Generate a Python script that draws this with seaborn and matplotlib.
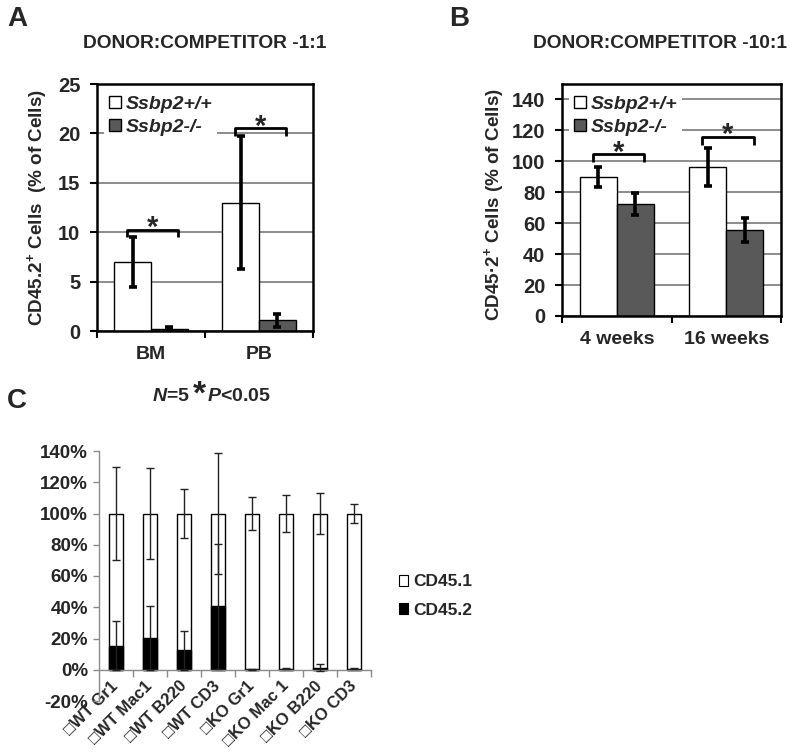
import matplotlib
matplotlib.use("Agg")
import matplotlib.pyplot as plt
import numpy as np
import pandas as pd
import seaborn as sns
from matplotlib.patches import Patch

# ---------------- data ----------------
A_groups = ["BM", "PB"]
A_genotypes = ["Ssbp2+/+", "Ssbp2-/-"]
A_wt = [7.0, 13.0]
A_wt_err = [2.55, 6.7]
A_ko = [0.25, 1.1]
A_ko_err = [0.12, 0.65]
A_yticks = [0, 5, 10, 15, 20, 25]

B_groups = ["4 weeks", "16 weeks"]
B_wt = [90.0, 96.3]
B_wt_err = [6.5, 12.4]
B_ko = [72.5, 55.5]
B_ko_err = [7.0, 7.8]
B_yticks = [0, 20, 40, 60, 80, 100, 120, 140]

C_cats = ["\u25a1WT Gr1", "\u25a1WT Mac1", "\u25a1WT B220", "\u25a1WT CD3",
          "\u25a1KO Gr1", "\u25a1KO Mac 1", "\u25a1KO B220", "\u25a1KO CD3"]
C_series = ["CD45.1", "CD45.2"]
C_cd452 = [15.3, 20.3, 12.4, 40.5, 0.4, 0.7, 1.4, 0.7]
C_cd452_err = [15.7, 20.4, 12.3, 40.0, 0.3, 0.3, 2.4, 0.3]
C_cd451 = [84.7, 79.7, 87.6, 59.5, 99.6, 99.3, 98.6, 99.3]
C_cd451_err = [29.7, 29.4, 15.8, 38.5, 10.8, 12.0, 13.4, 6.0]
C_yticks = [-20, 0, 20, 40, 60, 80, 100, 120, 140]

# significance bracket heights (data units)
A_sig = [10.25, 20.5]
B_sig = [104.5, 116.0]

# ---------------- style ----------------
sns.set_style("white")
plt.rcParams["font.family"] = ["Liberation Sans", "DejaVu Sans"]
plt.rcParams["font.weight"] = "bold"
plt.rcParams["mathtext.fontset"] = "custom"
plt.rcParams["mathtext.rm"] = "Liberation Sans:bold"
plt.rcParams["mathtext.bf"] = "Liberation Sans:bold"
plt.rcParams["mathtext.it"] = "Liberation Sans:italic:bold"
plt.rcParams["mathtext.default"] = "rm"

WHITE = "#ffffff"
DARK = "#595959"
GRID = "#8c8c8c"
AXG = "#8a8a8a"

W, H = 800, 755
fig = plt.figure(figsize=(8, 7.55), dpi=100)


def fx(px):
    return px / W


def fy(py):
    return 1 - py / H


def grouped_panel(ax, groups, wt, wt_err, ko, ko_err, yticks, ylim, sig, sig_drop):
    df = pd.DataFrame({
        "group": groups * 2,
        "genotype": [A_genotypes[0]] * len(groups) + [A_genotypes[1]] * len(groups),
        "value": wt + ko,
    })
    sns.barplot(data=df, x="group", y="value", hue="genotype", hue_order=A_genotypes,
                palette=[WHITE, DARK], edgecolor="black", linewidth=1.0, width=0.68,
                errorbar=None, saturation=1, legend=False, ax=ax)
    for cont, errs in zip(ax.containers, [wt_err, ko_err]):
        for bar, e in zip(cont, errs):
            ax.errorbar(bar.get_x() + bar.get_width() / 2, bar.get_height(), yerr=e,
                        fmt="none", ecolor="black", elinewidth=2.6, capsize=2.8,
                        capthick=2.6, zorder=4)
    ax.set_xlim(-0.5, len(groups) - 0.5)
    ax.set_ylim(*ylim)
    ax.set_yticks(yticks)
    ax.set_yticklabels([str(v) for v in yticks])
    ax.yaxis.grid(True, color=GRID, linewidth=1.4)
    ax.xaxis.grid(False)
    ax.set_axisbelow(True)
    ax.set_xlabel("")
    ax.set_ylabel("")
    ax.set_xticks(range(len(groups)))
    ax.set_xticklabels(groups)
    ax.set_xticks(np.arange(-0.5, len(groups), 1.0), minor=True)
    ax.tick_params(axis="x", which="major", length=0, pad=11, labelsize=14)
    ax.tick_params(axis="x", which="minor", length=5, width=1.5, direction="out",
                   color="black", bottom=True)
    ax.tick_params(axis="y", which="major", length=5, width=1.5, direction="out",
                   color="black", pad=7, labelsize=14.5, left=True)
    for s in ax.spines.values():
        s.set_visible(True)
        s.set_color("black")
        s.set_linewidth(1.8)
    for i, y in enumerate(sig):
        x0, x1 = i - 0.22, i + 0.25
        ax.plot([x0, x0, x1, x1], [y - sig_drop, y, y, y - sig_drop], color="black",
                lw=2.0, solid_capstyle="butt", zorder=5)
        ax.annotate("*", xy=(i + 0.015, y), xytext=(0, -4.5), textcoords="offset points",
                    ha="center", va="baseline", fontsize=21, weight="bold", zorder=6)
    leg = ax.legend(handles=[Patch(facecolor=WHITE, edgecolor="black", lw=1.0),
                             Patch(facecolor=DARK, edgecolor="black", lw=1.0)],
                    labels=A_genotypes, loc="upper left", bbox_to_anchor=(0.0, 1.0),
                    frameon=True, framealpha=1, facecolor="white", edgecolor="none",
                    fancybox=False, prop={"weight": "bold", "style": "italic", "size": 14},
                    handlelength=0.62, handleheight=0.62, handletextpad=0.25,
                    labelspacing=0.3, borderpad=0.25, borderaxespad=0.35)
    leg.set_zorder(3)


# ---------------- panel A ----------------
axA = fig.add_axes([fx(97), fy(331), fx(216), 247 / H])
grouped_panel(axA, A_groups, A_wt, A_wt_err, A_ko, A_ko_err, A_yticks, (0, 25), A_sig, 0.75)
fig.text(fx(37), fy(208), "CD45.2$^{+}$ Cells  (% of Cells)", rotation=90,
         ha="center", va="center", fontsize=13.6, weight="bold")
fig.text(fx(7), fy(6), "A", fontsize=20, weight="bold", va="top", ha="left")
fig.text(fx(205), fy(48), "DONOR:COMPETITOR -1:1", fontsize=13.8, weight="bold",
         ha="center", va="baseline")

# ---------------- panel B ----------------
axB = fig.add_axes([fx(562), fy(316), fx(219), 232 / H])
grouped_panel(axB, B_groups, B_wt, B_wt_err, B_ko, B_ko_err, B_yticks, (0, 150), B_sig, 5.2)
fig.text(fx(494), fy(205), "CD45\u00b72$^{+}$ Cells (% of Cells)", rotation=90,
         ha="center", va="center", fontsize=13.6, weight="bold")
fig.text(fx(449), fy(6), "B", fontsize=20, weight="bold", va="top", ha="left")
fig.text(fx(660), fy(48), "DONOR:COMPETITOR -10:1", fontsize=13.8, weight="bold",
         ha="center", va="baseline")

# N=5 *P<0.05
fig.text(fx(152), fy(401), r"$\mathit{N}$=5", fontsize=14, weight="bold", va="baseline")
fig.text(fx(199), fy(404), "*", fontsize=24, weight="bold", va="baseline", ha="center")
fig.text(fx(207), fy(401), r"$\mathit{P}$<0.05", fontsize=14, weight="bold", va="baseline")

# ---------------- panel C ----------------
axC = fig.add_axes([fx(99), fy(701), fx(272), 250 / H])
dfC = pd.DataFrame({"cat": C_cats, "cd451": C_cd451, "cd452": C_cd452})
dfC["total"] = dfC["cd451"] + dfC["cd452"]
sns.barplot(data=dfC, x="cat", y="total", color=WHITE, edgecolor="black", linewidth=1.0,
            width=0.41, errorbar=None, saturation=1, ax=axC)
sns.barplot(data=dfC, x="cat", y="cd452", color="black", edgecolor="black", linewidth=1.0,
            width=0.41, errorbar=None, saturation=1, ax=axC)
for cont, errs in zip(axC.containers, [C_cd451_err, C_cd452_err]):
    for bar, e in zip(cont, errs):
        axC.errorbar(bar.get_x() + bar.get_width() / 2, bar.get_height(), yerr=e,
                     fmt="none", ecolor="#222222", elinewidth=1.0, capsize=3.0,
                     capthick=1.0, zorder=4)
axC.set_xlim(-0.5, len(C_cats) - 0.5)
axC.set_ylim(-20, 140)
axC.set_yticks(C_yticks)
axC.set_yticklabels([f"{v}%" for v in C_yticks])
axC.set_xlabel("")
axC.set_ylabel("")
axC.grid(False)
for side in ["top", "right"]:
    axC.spines[side].set_visible(False)
for side in ["left", "bottom"]:
    axC.spines[side].set_visible(True)
    axC.spines[side].set_color(AXG)
    axC.spines[side].set_linewidth(1.0)
axC.spines["bottom"].set_position(("data", 0))
axC.set_xticks(range(len(C_cats)))
axC.set_xticklabels(C_cats)
axC.set_xticks(np.arange(0.5, len(C_cats), 1.0), minor=True)
axC.tick_params(axis="x", which="major", length=0, pad=10, labelsize=12)
axC.tick_params(axis="x", which="minor", length=5, width=1.0, direction="out",
                color=AXG, bottom=True)
axC.tick_params(axis="y", which="major", length=4, width=1.0, direction="out",
                color=AXG, pad=4, labelsize=13.5, left=True)
for lbl in axC.get_xticklabels():
    lbl.set_rotation(45)
    lbl.set_ha("right")
    lbl.set_va("center")
    lbl.set_rotation_mode("anchor")
    lbl.set_fontweight("bold")

fig.legend(handles=[Patch(facecolor=WHITE, edgecolor="black", lw=0.8),
                    Patch(facecolor="black", edgecolor="black", lw=0.8)],
           labels=C_series, loc="center left", bbox_to_anchor=(fx(383), fy(596)),
           frameon=False, prop={"weight": "bold", "size": 12.5},
           handlelength=0.55, handleheight=0.55, handletextpad=0.3, labelspacing=0.75)
fig.text(fx(7), fy(388), "C", fontsize=20, weight="bold", va="top", ha="left")

fig.savefig("out.png", dpi=100)
